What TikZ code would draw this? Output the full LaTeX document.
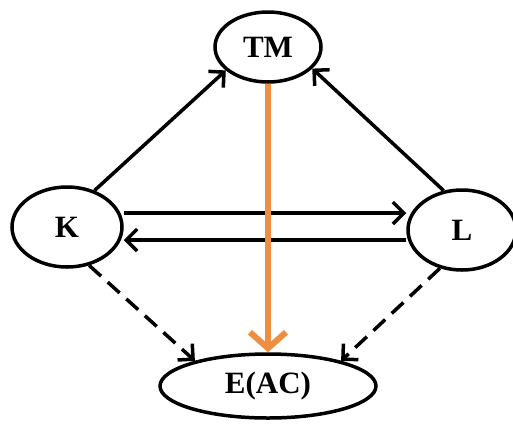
\documentclass[tikz,border=0pt]{standalone}
\usepackage{fontspec}
\setmainfont{Liberation Serif}
\usetikzlibrary{arrows.meta,shapes.geometric}
\definecolor{orangeline}{RGB}{238,142,62}
\begin{document}
\begin{tikzpicture}[x=1pt,y=-1pt,
  vbox/.style={ellipse,draw,line width=3.5pt,inner sep=0pt,font=\bfseries\fontsize{31}{35}\selectfont},
  arr/.style={line width=3.5pt,-{Straight Barb[length=11pt,width=22pt]}},
  darr/.style={arr,dash pattern=on 16pt off 9pt},
  oarr/.style={line width=6pt,draw=orangeline,-{Straight Barb[length=16pt,width=36pt]}}]
\useasboundingbox (0,0) rectangle (513,424);
\node[vbox,minimum width=106pt,minimum height=70pt] (TM) at (268,47) {TM};
\node[vbox,minimum width=110pt,minimum height=80pt] (K) at (67,227) {K};
\node[vbox,minimum width=108pt,minimum height=80pt] (L) at (462,230) {L};
\node[vbox,minimum width=216pt,minimum height=64pt] (E) at (268,386) {E(AC)};
\draw[arr] (K.53) -- (TM.209);
\draw[arr] (L.115) -- (TM.-26);
\draw[arr] (K.east |- 0,213) -- (L.west |- 0,213);
\draw[arr] (L.west |- 0,240) -- (K.east |- 0,240);
\draw[darr] (K.-60) -- (E.161);
\draw[darr] (L.240) -- (E.19.5);
\draw[oarr] (TM.south) -- (E.north);
\end{tikzpicture}
\end{document}
